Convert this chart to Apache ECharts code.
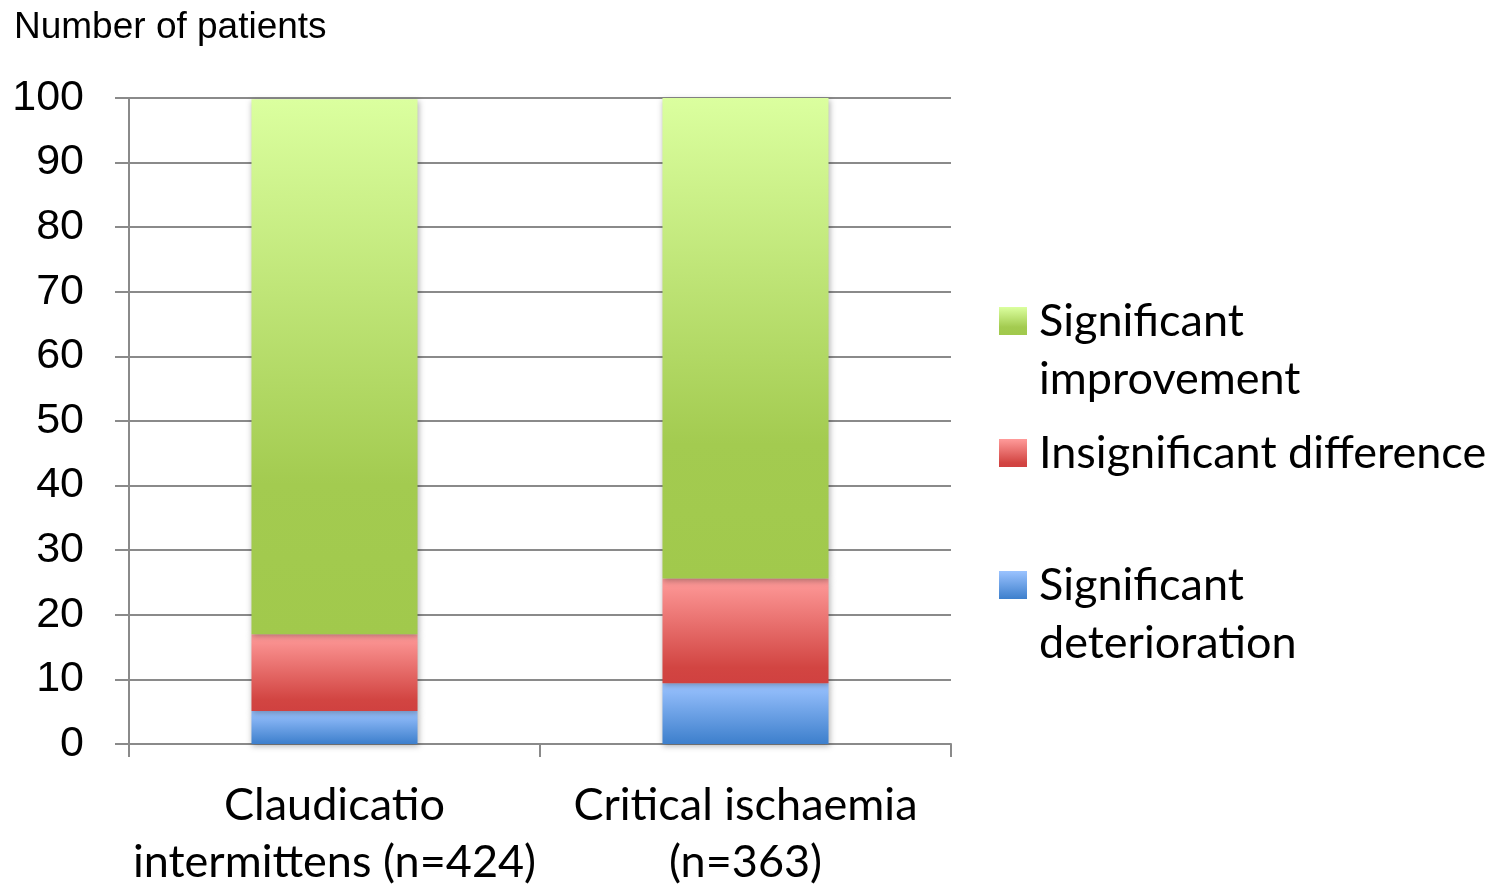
<!DOCTYPE html>
<html>
<head>
<meta charset="utf-8">
<script src="https://cdn.jsdelivr.net/npm/echarts@6/dist/echarts.min.js"></script>
<style>
html,body{margin:0;padding:0;background:#fff;}
#chart{width:1491px;height:885px;}
</style>
</head>
<body>
<div id="chart"></div>
<script>
const categories = ['Claudicatio\nintermittens (n=424)', 'Critical ischaemia\n(n=363)'];
const yTicks = [0, 10, 20, 30, 40, 50, 60, 70, 80, 90, 100];
const deterioration = [5.1, 9.4];
const insignificant = [11.9, 16.2];
const improvement = [82.8, 74.4];
const seriesNames = ['Significant deterioration', 'Insignificant difference', 'Significant improvement'];
const legendLabels = {
  'Significant improvement': '\nSignificant\nimprovement',
  'Insignificant difference': 'Insignificant difference',
  'Significant deterioration': '\nSignificant\ndeterioration'
};

function grad(stops) {
  return new echarts.graphic.LinearGradient(0, 0, 0, 1,
    stops.map(s => ({ offset: s[0], color: s[1] })));
}
const blueFill = grad([[0, '#9BC3FF'], [1, '#3D7FCC']]);
const redFill = grad([[0, '#FF9B9A'], [0.85, '#D24542'], [1, '#D04140']]);
const greenFill = grad([[0, '#DBFF9F'], [0.72, '#A3CB50'], [1, '#A1C94C']]);
const fills = [blueFill, redFill, greenFill];
const values = [deterioration, insignificant, improvement];

const chart = echarts.init(document.getElementById('chart'));
chart.setOption({
  backgroundColor: '#ffffff',
  animation: false,
  title: {
    text: 'Number of patients',
    left: 9, top: 4,
    textStyle: { fontFamily: 'Liberation Sans', fontSize: 37, fontWeight: 'normal', color: '#000' }
  },
  legend: {
    orient: 'vertical',
    left: 999, top: 234,
    padding: 0,
    itemGap: 16,
    itemWidth: 28, itemHeight: 28,
    icon: 'rect',
    data: ['Significant improvement', 'Insignificant difference', 'Significant deterioration'],
    formatter: name => legendLabels[name],
    textStyle: { fontFamily: 'Lato', fontSize: 45, lineHeight: 58, color: '#000', padding: [0, 0, 0, 7] }
  },
  grid: { left: 129, right: 540, top: 98, bottom: 141, containLabel: false, outerBoundsMode: 'none' },
  xAxis: {
    type: 'category',
    data: categories,
    axisLine: { lineStyle: { color: '#8a8a8a', width: 2 } },
    axisTick: { show: true, length: 13, lineStyle: { color: '#8a8a8a', width: 2 } },
    axisLabel: { fontFamily: 'Lato', fontSize: 45, lineHeight: 57, color: '#000', margin: 33, interval: 0 }
  },
  yAxis: {
    type: 'value',
    min: yTicks[0], max: yTicks[yTicks.length - 1], interval: 10,
    axisLine: { show: true, lineStyle: { color: '#8a8a8a', width: 2 } },
    axisTick: { show: true, length: 14, lineStyle: { color: '#8a8a8a', width: 2 } },
    splitLine: { show: true, lineStyle: { color: '#8a8a8a', width: 2 } },
    axisLabel: { fontFamily: 'Liberation Sans', fontSize: 43, color: '#000', margin: 45 }
  },
  series: seriesNames.map((n, i) => ({
    name: n,
    type: 'bar',
    stack: 'total',
    barWidth: '40.4%',
    data: values[i],
    itemStyle: {
      color: fills[i],
      shadowBlur: 6, shadowColor: 'rgba(0,0,0,0.3)', shadowOffsetX: 1, shadowOffsetY: 2
    }
  }))
});
</script>
</body>
</html>
